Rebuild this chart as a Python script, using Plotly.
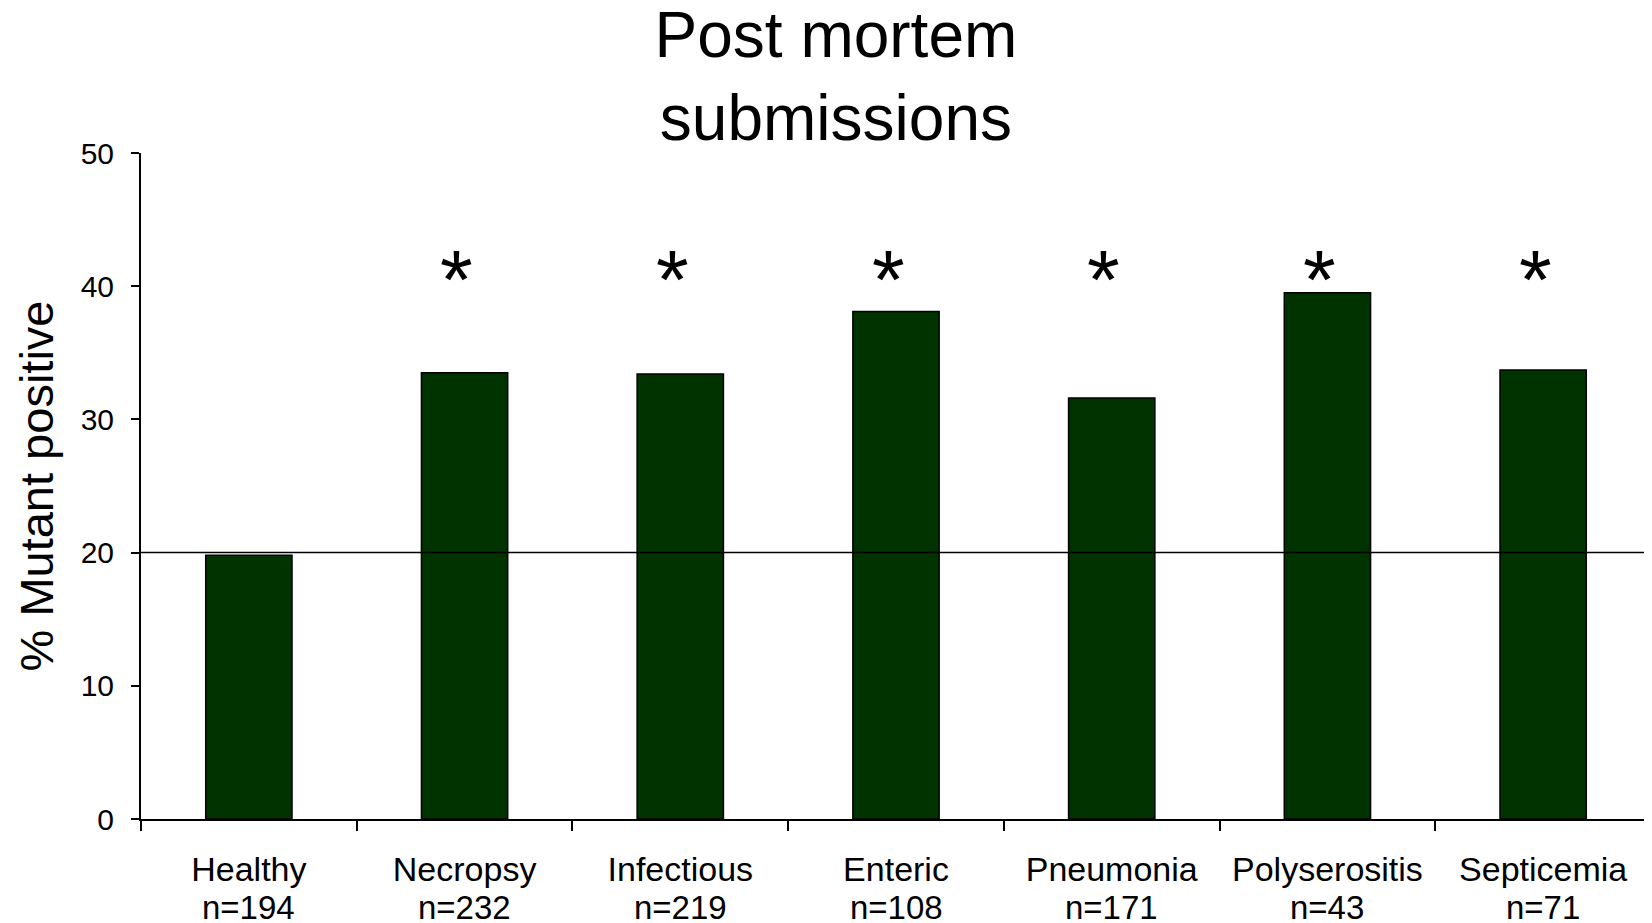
"""Post mortem submissions: % mutant positive by diagnosis group."""

import plotly.graph_objects as go

# ---- data --------------------------------------------------------------------

categories = ["Healthy", "Necropsy", "Infectious", "Enteric",
              "Pneumonia", "Polyserositis", "Septicemia"]
n_counts = [194, 232, 219, 108, 171, 43, 71]
pct_mutant = [19.8, 33.5, 33.4, 38.1, 31.6, 39.5, 33.7]
significant = [False, True, True, True, True, True, True]

REFERENCE_LEVEL = 20
STAR_LEVEL = 40.5
Y_TICKS = [0, 10, 20, 30, 40, 50]

FONT = "Liberation Sans, Arial, sans-serif"
BAR_GREEN = "#003300"

# the page body keeps its default 8px margin, so the figure is 8px smaller
FIG_W, FIG_H = 1644, 915

# ---- figure ------------------------------------------------------------------

fig = go.Figure()
fig.add_trace(go.Bar(
    x=categories,
    y=pct_mutant,
    width=0.4,
    marker=dict(color=BAR_GREEN, line=dict(color="black", width=1.5)),
    hoverinfo="x+y",
))

# n= labels under the category names
for cat, n in zip(categories, n_counts):
    fig.add_annotation(
        x=cat, y=0, xref="x", yref="paper",
        text=f"n={n}", showarrow=False,
        yanchor="top", yshift=-69, borderpad=0,
        font=dict(size=33, color="black", family=FONT),
    )

# significance asterisks
for cat, sig in zip(categories, significant):
    if sig:
        fig.add_annotation(
            x=cat, y=STAR_LEVEL, xref="x", yref="y",
            text="*", showarrow=False, yanchor="middle", xshift=-8,
            font=dict(size=84, color="black", family=FONT),
        )

# baseline reference line
fig.add_shape(
    type="line", xref="paper", yref="y",
    x0=0, x1=1, y0=REFERENCE_LEVEL, y1=REFERENCE_LEVEL,
    line=dict(color="black", width=1.5), layer="above",
)

fig.update_layout(
    width=FIG_W,
    height=FIG_H,
    paper_bgcolor="white",
    plot_bgcolor="white",
    showlegend=False,
    font=dict(family=FONT, color="black"),
    margin=dict(l=133, r=1, t=145, b=104),
    title=dict(
        text="Post mortem<br>submissions",
        x=0.5036, xanchor="center", xref="container",
        y=0.9467, yanchor="top", yref="container",
        font=dict(size=64, color="black", family=FONT),
    ),
    xaxis=dict(
        type="category",
        range=[-0.5, 6.5],
        showline=True, linecolor="black", linewidth=2,
        ticks="outside", ticklen=10, tickwidth=2, tickcolor="black",
        tickson="boundaries",
        tickfont=dict(size=34, color="black", family=FONT),
        ticklabelstandoff=19,
        showgrid=False, zeroline=False,
        automargin=False,
    ),
    yaxis=dict(
        range=[0, 50],
        tickvals=Y_TICKS,
        showline=True, linecolor="black", linewidth=2,
        ticks="outside", ticklen=8, tickwidth=2, tickcolor="black",
        tickfont=dict(size=30, color="black", family=FONT),
        ticklabelstandoff=11,
        showgrid=False, zeroline=False,
        title=dict(text="% Mutant positive", standoff=12,
                   font=dict(size=47, color="black", family=FONT)),
        automargin=False,
    ),
)

fig.write_html("out.html")
